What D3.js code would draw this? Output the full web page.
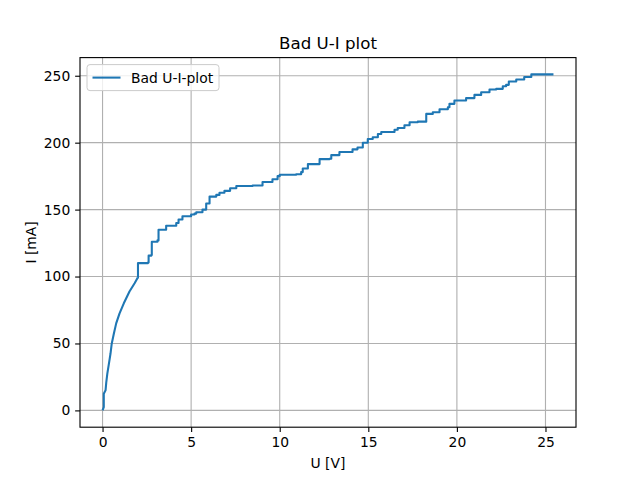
<!DOCTYPE html>
<html><head><meta charset="utf-8">
<script src="https://cdn.jsdelivr.net/npm/d3@7"></script>
<style>body{margin:0;background:#fff}svg{font-family:"DejaVu Sans",sans-serif}</style>
</head><body>
<svg id="c" width="640" height="480"></svg>
<script>
const U = [0,0.07,0.07,0.17,0.21,0.27,0.36,0.45,0.52,0.64,0.77,0.96,1.2,1.52,1.81,1.99,2.0,2.56,2.6,2.65,2.75,2.78,3.05,3.10,3.16,3.56,3.59,4.16,4.29,4.51,5.0,5.19,5.29,5.64,5.85,6.04,6.42,6.60,6.88,7.2,7.55,8.47,9.03,9.59,9.88,10.0,10.93,11.21,11.30,11.59,12.25,12.81,12.91,13.37,14.11,14.39,14.69,14.97,15.25,15.54,15.73,16.48,16.66,17.04,17.33,17.79,18.27,18.64,19.02,19.49,19.58,19.86,20.52,20.99,21.37,21.84,22.22,22.59,22.78,22.93,23.35,23.8,24.2,25.45];
const I = [0,2.5,12.5,15,21,27.5,35,42.5,50,57.5,65,72.5,80,88.8,95,99.3,110,110.5,115.6,115.6,116,126,126,127,135,135,138,140,142.6,145,146.4,147,148,150,154.6,159.7,161,162.6,164,166,167.6,168,170.6,172.7,175,176,176.4,178,180.7,184,187.7,188,190.7,193,195,196.4,200,202.7,204,206.5,208,209.7,211,213,215.2,215.7,221.5,222.7,225,226.4,229,231.5,233.3,235.7,237.7,239.7,240.2,242.2,243.2,245.7,247.2,249,251,251];
const xTicks = [0,5,10,15,20,25];
const yTicks = [0,50,100,150,200,250];
const data = U.map((u,i)=>({u, i:I[i]}));

const svg = d3.select("#c");
const L=80, R=576, T=57.6, B=427.2;
const pt = 100/72;
const x = d3.scaleLinear().domain([-1.2725, 26.7225]).range([L,R]);
const y = d3.scaleLinear().domain([-12.55, 263.55]).range([B,T]);

const g = svg.append("g");
g.selectAll(".gx").data(xTicks).join("line").attr("x1",d=>x(d)).attr("x2",d=>x(d)).attr("y1",T).attr("y2",B)
 .attr("stroke","#b0b0b0").attr("stroke-width",0.8*pt);
g.selectAll(".gy").data(yTicks).join("line").attr("y1",d=>y(d)).attr("y2",d=>y(d)).attr("x1",L).attr("x2",R)
 .attr("stroke","#b0b0b0").attr("stroke-width",0.8*pt);

// smooth-ish start (dense samples), staircase afterwards
const split = 15;
const early = data.slice(0, split+1);
const late = data.slice(split);
g.append("path").datum(early)
 .attr("d", d3.line().x(d=>x(d.u)).y(d=>y(d.i)))
 .attr("fill","none").attr("stroke","#1f77b4").attr("stroke-width",1.5*pt).attr("stroke-linejoin","round").attr("stroke-linecap","butt");
g.append("path").datum(late)
 .attr("d", d3.line().curve(d3.curveStepAfter).x(d=>x(d.u)).y(d=>y(d.i)))
 .attr("fill","none").attr("stroke","#1f77b4").attr("stroke-width",1.5*pt).attr("stroke-linejoin","round").attr("stroke-linecap","butt");

const fs = 10*pt;
const xa = svg.append("g").attr("transform",`translate(0,${B})`)
 .call(d3.axisBottom(x).tickValues(xTicks).tickSize(3.5*pt).tickPadding(3.5*pt).tickFormat(d3.format("d")));
const ya = svg.append("g").attr("transform",`translate(${L},0)`)
 .call(d3.axisLeft(y).tickValues(yTicks).tickSize(3.5*pt).tickPadding(3.5*pt).tickFormat(d3.format("d")));
[xa,ya].forEach(a=>{
  a.select(".domain").remove();
  a.selectAll(".tick line").attr("stroke","#000").attr("stroke-width",0.8*pt);
  a.selectAll(".tick text").attr("fill","#000").attr("font-size",fs).attr("font-family","DejaVu Sans");
});
svg.append("rect").attr("x",L).attr("y",T).attr("width",R-L).attr("height",B-T)
 .attr("fill","none").attr("stroke","#000").attr("stroke-width",0.8*pt);

svg.append("text").attr("x",(L+R)/2).attr("y",468).attr("text-anchor","middle").attr("font-size",fs).text("U [V]");
svg.append("text").attr("transform",`translate(36,${(T+B)/2}) rotate(-90)`).attr("text-anchor","middle").attr("font-size",fs).text("I [mA]");
svg.append("text").attr("x",(L+R)/2).attr("y",49).attr("text-anchor","middle").attr("font-size",12*pt).text("Bad U-I plot");

const lx = L+7, ly = T+7;
svg.append("rect").attr("x",lx).attr("y",ly).attr("width",132).attr("height",26).attr("rx",3)
 .attr("fill","#fff").attr("fill-opacity",0.8).attr("stroke","#cccccc").attr("stroke-width",1);
svg.append("line").attr("x1",lx+5.5).attr("x2",lx+33.5).attr("y1",ly+13).attr("y2",ly+13)
 .attr("stroke","#1f77b4").attr("stroke-width",1.5*pt);
svg.append("text").attr("x",lx+44).attr("y",ly+18).attr("font-size",fs).text("Bad U-I-plot");
</script>
</body></html>
